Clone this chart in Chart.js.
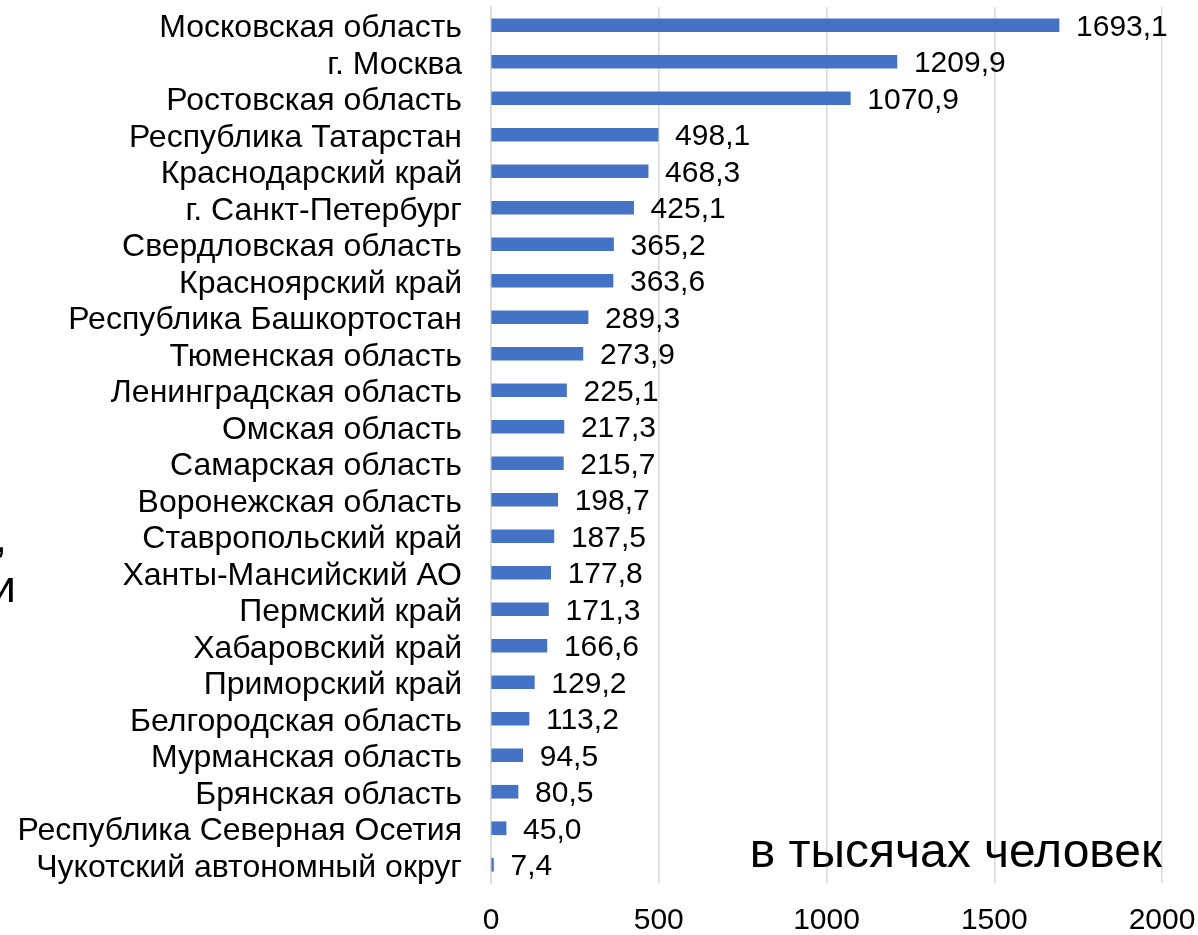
<!DOCTYPE html>
<html>
<head>
<meta charset="utf-8">
<script src="https://cdn.jsdelivr.net/npm/chart.js@4.4.1/dist/chart.umd.min.js"></script>
<style>
html,body{margin:0;padding:0;background:#fff;}
#wrap{width:1198px;height:935px;position:relative;}
</style>
</head>
<body>
<div id="wrap"><canvas id="c" width="1198" height="935"></canvas></div>
<script>
const categories = [
  "Московская область","г. Москва","Ростовская область","Республика Татарстан",
  "Краснодарский край","г. Санкт-Петербург","Свердловская область","Красноярский край",
  "Республика Башкортостан","Тюменская область","Ленинградская область","Омская область",
  "Самарская область","Воронежская область","Ставропольский край","Ханты-Мансийский АО",
  "Пермский край","Хабаровский край","Приморский край","Белгородская область",
  "Мурманская область","Брянская область","Республика Северная Осетия","Чукотский автономный округ"
];
const values = [1693.1,1209.9,1070.9,498.1,468.3,425.1,365.2,363.6,289.3,273.9,225.1,217.3,215.7,198.7,187.5,177.8,171.3,166.6,129.2,113.2,94.5,80.5,45.0,7.4];
const xTicks = [0,500,1000,1500,2000];
const unitLabel = "в тысячах человек";
const clippedFragments = [",", "и"];

const FONT = "'Liberation Sans', Arial, sans-serif";

const extras = {
  id: 'extras',
  afterDatasetsDraw(chart) {
    const ctx = chart.ctx;
    const meta = chart.getDatasetMeta(0);
    ctx.save();
    ctx.fillStyle = '#000';
    ctx.font = '30px ' + FONT;
    ctx.textAlign = 'left';
    ctx.textBaseline = 'middle';
    meta.data.forEach((bar, i) => {
      const txt = values[i].toFixed(1).replace('.', ',');
      ctx.fillText(txt, bar.x + 17, bar.y + 2);
    });
    const ca = chart.chartArea;
    ctx.font = '48px ' + FONT;
    ctx.textAlign = 'right';
    ctx.textBaseline = 'alphabetic';
    ctx.fillText(unitLabel, ca.right, ca.bottom - 16);
    ctx.font = '45px ' + FONT;
    ctx.fillText(clippedFragments[0], 7, 552);
    ctx.fillText(clippedFragments[1], 16, 602);
    ctx.restore();
  }
};

new Chart(document.getElementById('c'), {
  type: 'bar',
  data: {
    labels: categories,
    datasets: [{
      data: values,
      backgroundColor: '#4472C4',
      borderWidth: 0,
      barThickness: 13
    }]
  },
  options: {
    indexAxis: 'y',
    responsive: false,
    animation: false,
    devicePixelRatio: 1,
    layout: { padding: { top: 7, right: 36, left: 0, bottom: 0 } },
    plugins: { legend: { display: false }, tooltip: { enabled: false } },
    scales: {
      x: {
        min: 0, max: 2000,
        afterBuildTicks(scale) { scale.ticks = xTicks.map(v => ({ value: v })); },
        afterFit(scale) { scale.height = 52; scale.paddingLeft = 0; scale.paddingRight = 0; scale.paddingTop = 0; scale.paddingBottom = 0; },
        grid: { color: '#d9d9d9', lineWidth: 1.5, drawTicks: false },
        border: { display: false },
        ticks: { color: '#000', font: { family: FONT, size: 30 }, padding: 20, maxRotation: 0, callback: v => String(v) }
      },
      y: {
        afterFit(scale) { scale.width = 491; scale.paddingTop = 0; scale.paddingBottom = 0; scale.paddingLeft = 0; scale.paddingRight = 0; },
        grid: { display: false, drawTicks: false },
        border: { display: true, color: '#d9d9d9', width: 1.5 },
        ticks: { color: '#000', font: { family: FONT, size: 32 }, padding: 29, autoSkip: false, labelOffset: 3 }
      }
    }
  },
  plugins: [extras]
});
</script>
</body>
</html>
